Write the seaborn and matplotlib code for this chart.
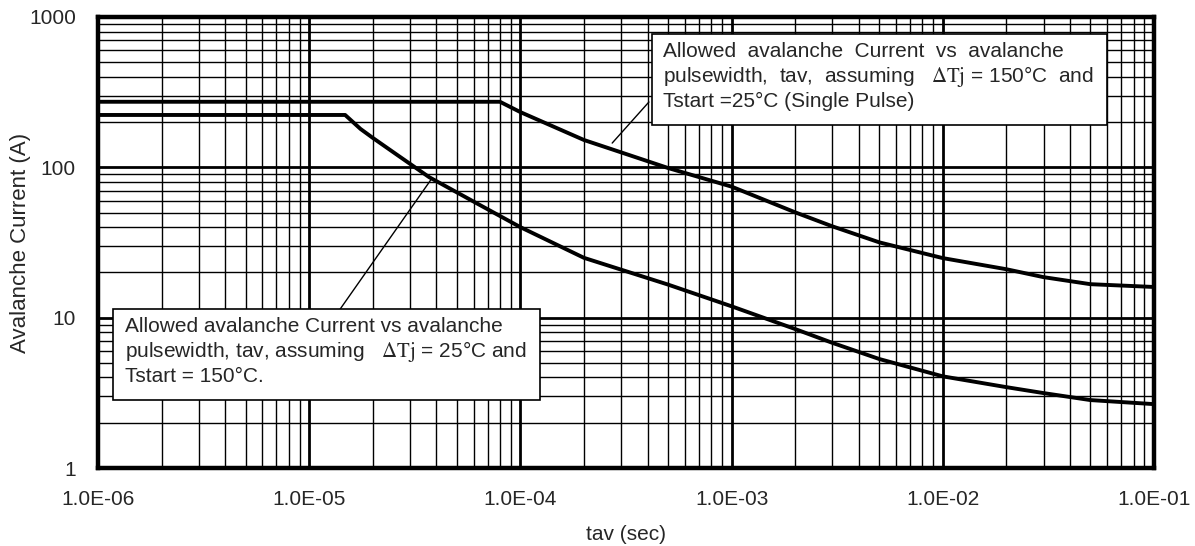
# avalanche current vs pulse width, log-log chart

import pandas as pd
import seaborn as sns
import matplotlib.pyplot as plt
from matplotlib.ticker import FixedLocator, NullFormatter
from matplotlib.patches import Rectangle

# upper curve: dTj = 150C, Tstart = 25C (single pulse)
tav_25c = [1e-6, 8.0e-5, 1e-4, 2e-4, 5e-4, 1e-3, 2e-3, 3e-3, 5e-3, 1e-2, 2e-2, 3e-2, 5e-2, 1e-1]
cur_25c = [273, 273, 233, 152, 99, 74.4, 50.2, 40.5, 31.7, 24.9, 21.0, 18.6, 16.7, 16.0]

# lower curve: dTj = 25C, Tstart = 150C
tav_150c = [1e-6, 1.48e-5, 1.75e-5, 2.0e-5, 2.7e-5, 3.7e-5, 6.45e-5, 1e-4, 2e-4, 5e-4,
            1e-3, 2e-3, 3e-3, 5e-3, 1e-2, 2e-2, 3e-2, 5e-2, 1e-1]
cur_150c = [223, 223, 180, 157, 117, 86, 56, 40, 25, 16.6,
            11.9, 8.4, 6.8, 5.31, 4.07, 3.45, 3.15, 2.83, 2.66]

x_ticks = [1e-6, 1e-5, 1e-4, 1e-3, 1e-2, 1e-1]
x_ticklabels = ["1.0E-06", "1.0E-05", "1.0E-04", "1.0E-03", "1.0E-02", "1.0E-01"]
y_ticks = [1, 10, 100, 1000]
y_ticklabels = ["1", "10", "100", "1000"]

note_upper = ["Allowed  avalanche  Current  vs  avalanche",
              r"pulsewidth,  tav,  assuming   $\Delta\mathrm{Tj}$ = 150°C  and",
              "Tstart =25°C (Single Pulse)"]
note_lower = ["Allowed avalanche Current vs avalanche",
              r"pulsewidth, tav, assuming   $\Delta\mathrm{Tj}$ = 25°C and",
              "Tstart = 150°C."]

sns.set_style("white")
plt.rcParams["font.family"] = ["Liberation Sans", "DejaVu Sans"]
plt.rcParams["mathtext.fontset"] = "stix"

df_a = pd.DataFrame({"tav": tav_25c, "cur": cur_25c})
df_b = pd.DataFrame({"tav": tav_150c, "cur": cur_150c})

fig = plt.figure(figsize=(11.95, 5.46), dpi=100)
ax = fig.add_axes([98 / 1195, 1 - 468 / 546, 1056 / 1195, 451 / 546])

sns.lineplot(data=df_a, x="tav", y="cur", color="black", linewidth=2.8, ax=ax, zorder=3)
sns.lineplot(data=df_b, x="tav", y="cur", color="black", linewidth=2.8, ax=ax, zorder=3)

ax.set_xscale("log")
ax.set_yscale("log")
ax.set_xlim(1e-6, 1e-1)
ax.set_ylim(1, 1000)

ax.xaxis.set_major_locator(FixedLocator(x_ticks))
ax.set_xticklabels(x_ticklabels)
ax.yaxis.set_major_locator(FixedLocator(y_ticks))
ax.set_yticklabels(y_ticklabels)
minor_x = [m * 10.0 ** e for e in range(-6, -1) for m in range(2, 10)]
minor_y = [m * 10.0 ** e for e in range(0, 3) for m in range(2, 10)]
ax.xaxis.set_minor_locator(FixedLocator(minor_x))
ax.yaxis.set_minor_locator(FixedLocator(minor_y))
ax.xaxis.set_minor_formatter(NullFormatter())
ax.yaxis.set_minor_formatter(NullFormatter())

ax.grid(which="major", color="black", linewidth=2.0)
ax.grid(which="minor", color="black", linewidth=1.0)
ax.set_axisbelow(True)
ax.tick_params(which="both", length=0)
ax.tick_params(axis="x", labelsize=15, pad=16)
ax.tick_params(axis="y", labelsize=15, pad=16)
for s in ax.spines.values():
    s.set_linewidth(3.2)
    s.set_color("black")
    s.set_zorder(5)

ax.set_xlabel("tav (sec)", fontsize=15)
ax.set_ylabel("Avalanche Current (A)", fontsize=16)
ax.xaxis.set_label_coords(0.5, (468 - 525) / 451)
ax.yaxis.set_label_coords((31 - 98) / 1056, 0.5)

# annotation boxes (pixel layout converted to axes fraction)
def px_x(px):
    return (px - 98) / 1056

def px_y(py):
    return (468 - py) / 451

def note(x0, y0, x1, y1, tx, baselines, lines):
    ax.add_patch(Rectangle((px_x(x0), px_y(y1)), px_x(x1) - px_x(x0), px_y(y0) - px_y(y1),
                           transform=ax.transAxes, facecolor="white", edgecolor="black",
                           linewidth=1.2, zorder=6))
    for b, t in zip(baselines, lines):
        ax.text(px_x(tx), px_y(b), t, transform=ax.transAxes, fontsize=15,
                ha="left", va="baseline", zorder=7)

note(652, 34, 1107, 125, 663, [57, 82, 107], note_upper)
note(113, 309, 540, 400, 125, [332, 357, 382], note_lower)

# leader lines
ax.plot([2.72e-4, 4.06e-4], [145, 272], color="black", linewidth=1.0, zorder=4)
ax.plot([3.82e-5, 1.37e-5], [84.9, 10.9], color="black", linewidth=1.0, zorder=4)

plt.savefig("out.png", dpi=100)
